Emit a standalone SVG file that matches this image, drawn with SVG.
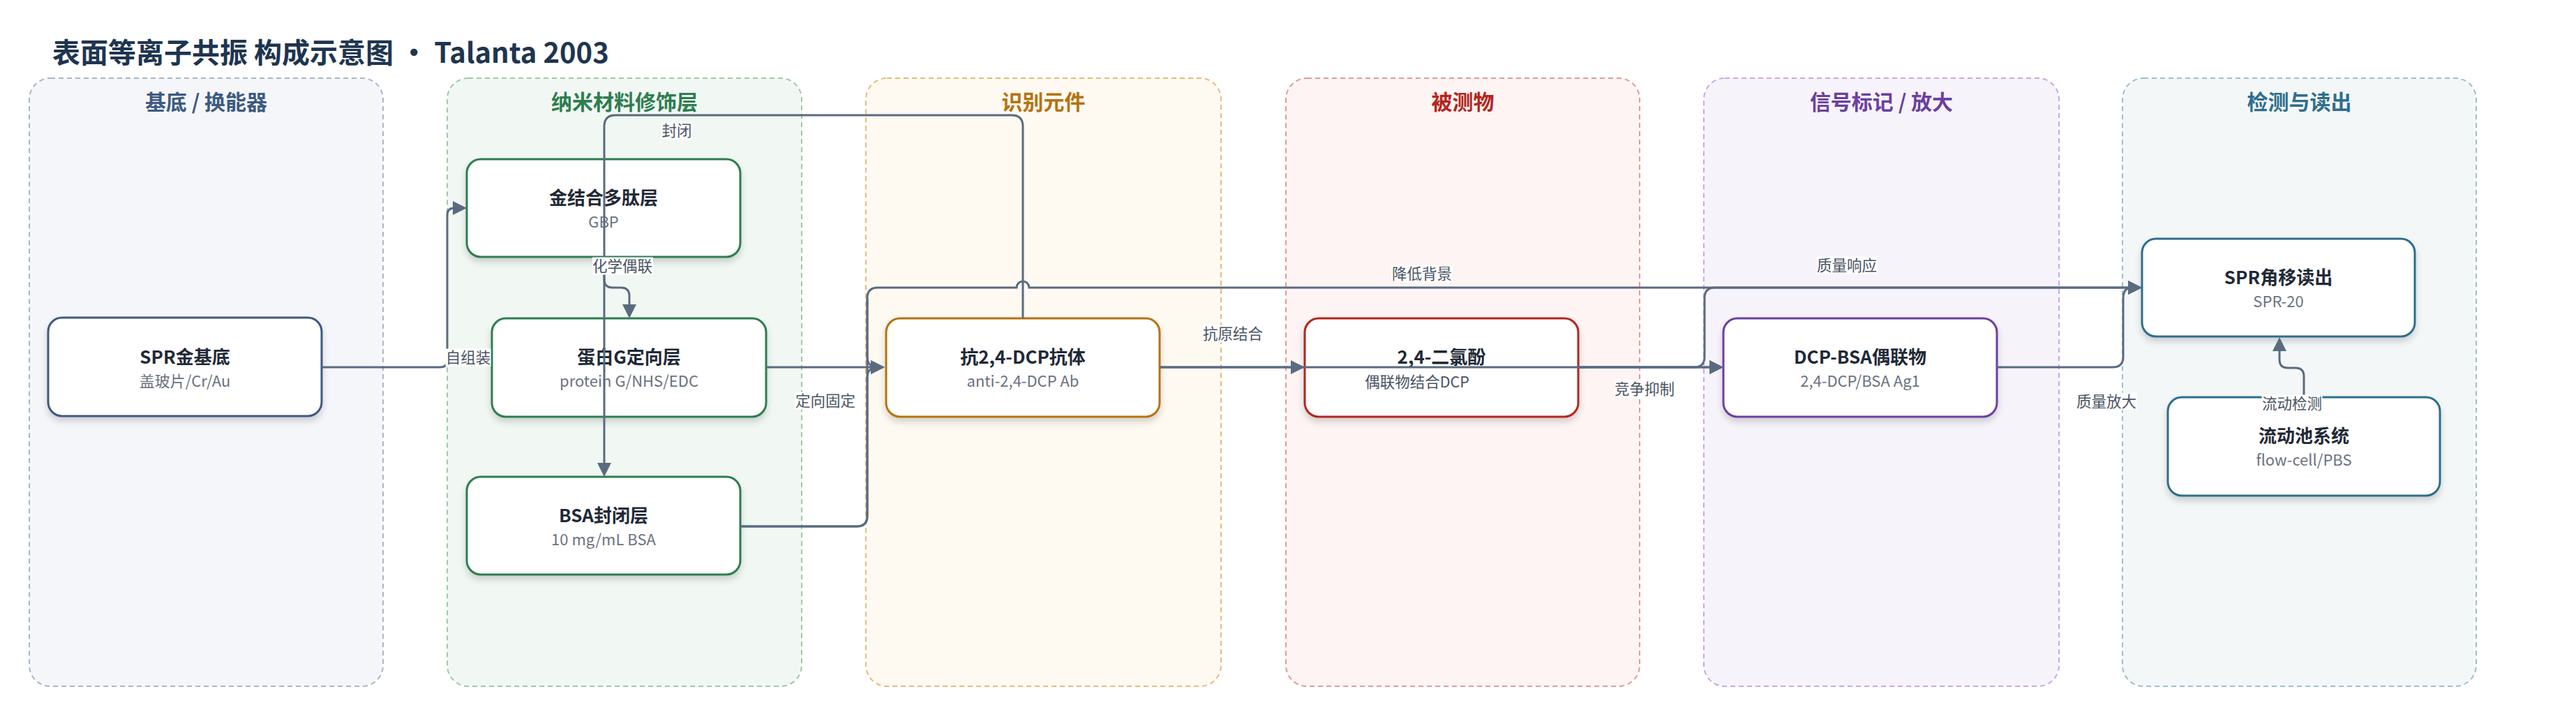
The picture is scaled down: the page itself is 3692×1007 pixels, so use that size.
<svg xmlns="http://www.w3.org/2000/svg" width="3692" height="1007" viewBox="0 0 3692 1007">
<defs>
<style>
text{font-family:"Noto Sans CJK SC","Noto Sans",sans-serif;}
.title{font-size:40px;font-weight:700;fill:#1e3550;}
.lane{stroke-width:2;stroke-dasharray:7 5;}
.lt{font-size:30px;font-weight:700;text-anchor:middle;}
.node{fill:#fff;stroke-width:3;filter:url(#sh);}
.nt{font-size:26px;font-weight:700;fill:#1f2937;text-anchor:middle;}
.ns{font-size:22px;fill:#6b7280;text-anchor:middle;}
.e{fill:none;stroke:#5a6b80;stroke-width:3;}
.ea{marker-end:url(#arr);}
.lb{fill:#fff;}
.lx{font-size:21.5px;fill:#4a5363;text-anchor:middle;}
</style>
<filter id="sh" x="-10%" y="-10%" width="120%" height="140%">
<feDropShadow dx="0" dy="6" stdDeviation="5" flood-color="#000" flood-opacity="0.16"/>
</filter>
<marker id="arr" viewBox="0 0 20 20" refX="10" refY="10" markerWidth="20" markerHeight="20" markerUnits="userSpaceOnUse" orient="auto">
<path d="M0,0 L20,10 L0,20 z" fill="#5a6b80"/>
</marker>
</defs>
<rect width="3692" height="1007" fill="#fff"/>
<text class="title" x="75" y="90">表面等离子共振 构成示意图 · Talanta 2003</text>

<g id="lanes">
<g id="lane-substrate"><rect class="lane" x="42" y="112" width="507" height="871" rx="30" fill="#f5f6fa" stroke="#a9b5c8"/><text class="lt" x="295.5" y="157" fill="#3d5a80">基底 / 换能器</text></g>
<g id="lane-nano"><rect class="lane" x="641" y="112" width="508" height="871" rx="30" fill="#f1f8f3" stroke="#9ccaa8"/><text class="lt" x="895" y="157" fill="#2e7d4f">纳米材料修饰层</text></g>
<g id="lane-recog"><rect class="lane" x="1241" y="112" width="509" height="871" rx="30" fill="#fef9f1" stroke="#e6bb7c"/><text class="lt" x="1495.5" y="157" fill="#b5730f">识别元件</text></g>
<g id="lane-analyte"><rect class="lane" x="1843" y="112" width="507" height="871" rx="30" fill="#fdf4f3" stroke="#e39a9a"/><text class="lt" x="2096.5" y="157" fill="#b3261e">被测物</text></g>
<g id="lane-signal"><rect class="lane" x="2442" y="112" width="509" height="871" rx="30" fill="#f7f3fb" stroke="#c7a8e3"/><text class="lt" x="2696.5" y="157" fill="#6b3fa0">信号标记 / 放大</text></g>
<g id="lane-readout"><rect class="lane" x="3042" y="112" width="507" height="871" rx="30" fill="#f3f7f8" stroke="#9dbfcc"/><text class="lt" x="3295.5" y="157" fill="#2f6e8c">检测与读出</text></g>
</g>

<g id="nodes">
<g id="n-spr-au"><rect class="node" x="69" y="455" width="392" height="141" rx="20" stroke="#3d5a80"/><text class="nt" x="265" y="521">SPR金基底</text><text class="ns" x="265" y="554">盖玻片/Cr/Au</text></g>
<g id="n-gbp"><rect class="node" x="669" y="228" width="392" height="140" rx="20" stroke="#2e7d4f"/><text class="nt" x="865" y="293">金结合多肽层</text><text class="ns" x="865" y="326">GBP</text></g>
<g id="n-protg"><rect class="node" x="705" y="456" width="393" height="141" rx="20" stroke="#2e7d4f"/><text class="nt" x="901.5" y="521">蛋白G定向层</text><text class="ns" x="901.5" y="554">protein G/NHS/EDC</text></g>
<g id="n-bsa"><rect class="node" x="669" y="683" width="392" height="140" rx="20" stroke="#2e7d4f"/><text class="nt" x="865" y="748">BSA封闭层</text><text class="ns" x="865" y="781">10 mg/mL BSA</text></g>
<g id="n-ab"><rect class="node" x="1270" y="456" width="392" height="141" rx="20" stroke="#b5730f"/><text class="nt" x="1466" y="521">抗2,4-DCP抗体</text><text class="ns" x="1466" y="554">anti-2,4-DCP Ab</text></g>
<g id="n-dcp"><rect class="node" x="1870" y="456" width="392" height="141" rx="20" stroke="#b3261e"/><text class="nt" x="2066" y="521">2,4-二氯酚</text></g>
<g id="n-conj"><rect class="node" x="2470" y="456" width="392" height="141" rx="20" stroke="#6b3fa0"/><text class="nt" x="2666" y="521">DCP-BSA偶联物</text><text class="ns" x="2666" y="554">2,4-DCP/BSA Ag1</text></g>
<g id="n-readout"><rect class="node" x="3070" y="342" width="391" height="140" rx="20" stroke="#2f6e8c"/><text class="nt" x="3265.5" y="407">SPR角移读出</text><text class="ns" x="3265.5" y="440">SPR-20</text></g>
<g id="n-flow"><rect class="node" x="3107" y="569" width="390" height="141" rx="20" stroke="#2f6e8c"/><text class="nt" x="3302" y="634">流动池系统</text><text class="ns" x="3302" y="667">flow-cell/PBS</text></g>
</g>

<g id="connectors">
<path class="e ea" d="M461 526 H631 Q641 526 641 516 V308 Q641 298 651 298 H659"/>
<path class="e ea" d="M866 368 V400 Q866 412 878 412 H890 Q902 412 902 424 V446"/>
<path class="e ea" d="M1466 456 V181 Q1466 165 1450 165 H882 Q866 165 866 181 V673"/>
<path class="e ea" d="M1098 526 H1258"/>
<path class="e ea" d="M1061 754 H1228 Q1243 754 1243 739 V541 Q1243 526 1258 526"/>
<path class="e" d="M1243 427 V511 Q1243 526 1258 526"/>
<path class="e ea" d="M1061 754 H1228 Q1243 754 1243 739 V427 Q1243 412 1258 412 H1457 A9 9 0 0 1 1475 412 H3060"/>
<path class="e ea" d="M1662 526 H1860"/>
<path class="e ea" d="M1662 526 H2460"/>
<path class="e ea" d="M2262 526 H2460"/>
<path class="e ea" d="M2262 526 H2428 Q2443 526 2443 511 V427 Q2443 412 2458 412 H3060"/>
<path class="e ea" d="M2862 526 H3028 Q3043 526 3043 511 V427 Q3043 412 3056 412 H3060"/>
<path class="e ea" d="M3302 569 V539 Q3302 527 3290 527 H3279 Q3267 527 3267 515 V493"/>
</g>

<g id="edge-labels">
<rect class="lb" x="948" y="174.5" width="44" height="25"/><text class="lx" x="970" y="195">封闭</text>
<rect class="lb" x="849" y="368.5" width="87" height="25"/><text class="lx" x="892" y="389">化学偶联</text>
<rect class="lb" x="638.5" y="499.5" width="65" height="25"/><text class="lx" x="671" y="520">自组装</text>
<rect class="lb" x="1139.5" y="561.5" width="87" height="25"/><text class="lx" x="1183" y="582">定向固定</text>
<rect class="lb" x="1723.5" y="465.5" width="87" height="25"/><text class="lx" x="1767" y="486">抗原结合</text>
<rect class="lb" x="1994.5" y="379.5" width="87" height="25"/><text class="lx" x="2038" y="400">降低背景</text>
<rect class="lb" x="1956.5" y="534.5" width="149" height="25"/><text class="lx" x="2031" y="555">偶联物结合DCP</text>
<rect class="lb" x="2313.5" y="544.5" width="87" height="25"/><text class="lx" x="2357" y="565">竞争抑制</text>
<rect class="lb" x="2603.5" y="367.5" width="87" height="25"/><text class="lx" x="2647" y="388">质量响应</text>
<rect class="lb" x="2975.5" y="562.5" width="87" height="25"/><text class="lx" x="3019" y="583">质量放大</text>
<rect class="lb" x="3241.5" y="565.5" width="87" height="25"/><text class="lx" x="3285" y="586">流动检测</text>
</g>
</svg>
